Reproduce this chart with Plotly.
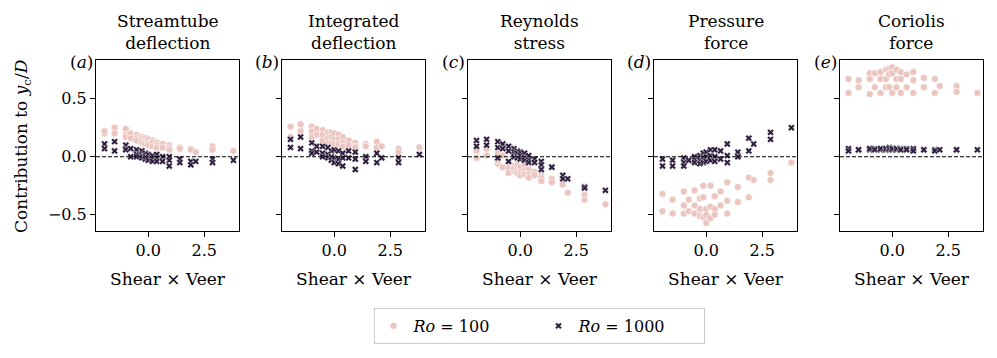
import plotly.graph_objects as go

# shear x veer of each case (shared by both Rossby numbers)
shear_veer = [-1.95, -1.95, -1.5, -1.5, -1.0, -1.0, -1.0, -0.78, -0.78,
              -0.52, -0.52, -0.52, -0.28, -0.28, -0.28, -0.13, -0.13, -0.13,
              0.0, 0.0, 0.0, 0.19, 0.19, 0.19, 0.38, 0.38, 0.38, 0.64, 0.64,
              0.94, 0.94, 0.94, 1.41, 1.41, 1.9, 1.9, 2.12, 2.87, 2.87, 3.8]

# (a) streamtube deflection
a_ro100 = [0.20, 0.22, 0.25, 0.20, 0.24, 0.19, 0.17, 0.20, 0.16, 0.19, 0.16, 0.14,
           0.17, 0.15, 0.12, 0.16, 0.13, 0.11, 0.15, 0.12, 0.10, 0.14, 0.12, 0.09,
           0.12, 0.10, 0.08, 0.11, 0.08, 0.10, 0.08, 0.06, 0.08, 0.07, 0.07, 0.06,
           0.04, 0.09, 0.06, 0.05]
a_ro1000 = [0.11, 0.07, 0.13, 0.05, 0.10, 0.07, 0.06, 0.07, 0.00, 0.06, 0.02, 0.00,
            0.05, 0.01, -0.01, 0.03, 0.00, -0.02, 0.02, -0.01, -0.03, 0.01, -0.02, -0.04,
            0.02, -0.01, -0.04, 0.00, -0.04, 0.00, -0.03, -0.08, -0.02, -0.05, -0.04, -0.07,
            -0.04, -0.02, -0.05, -0.03]

# (b) integrated deflection
b_ro100 = [0.17, 0.26, 0.28, 0.22, 0.26, 0.22, 0.17, 0.24, 0.19, 0.23, 0.19, 0.14,
           0.21, 0.16, 0.12, 0.21, 0.17, 0.12, 0.20, 0.15, 0.11, 0.19, 0.15, 0.11,
           0.17, 0.12, 0.09, 0.14, 0.10, 0.12, 0.09, 0.08, 0.11, 0.09, 0.13, 0.08,
           0.09, 0.07, 0.04, 0.08]
b_ro1000 = [0.15, 0.08, 0.17, 0.07, 0.12, 0.05, 0.03, 0.04, 0.09, 0.09, 0.03, 0.00,
            0.08, 0.02, -0.01, 0.05, 0.00, -0.03, 0.06, -0.01, -0.05, 0.05, -0.02, -0.06,
            0.03, -0.01, -0.08, 0.05, -0.01, 0.04, -0.02, -0.11, 0.00, -0.04, 0.03, -0.05,
            -0.01, -0.01, -0.05, 0.02]

# (c) Reynolds stress
c_ro100 = [0.05, -0.01, 0.07, 0.01, 0.03, -0.06, -0.03, 0.01, -0.09, -0.05, -0.10, -0.14,
           -0.08, -0.12, -0.10, -0.07, -0.11, -0.14, -0.09, -0.13, -0.16, -0.08, -0.12, -0.15,
           -0.11, -0.15, -0.18, -0.13, -0.16, -0.16, -0.18, -0.21, -0.19, -0.22, -0.19, -0.24,
           -0.31, -0.33, -0.37, -0.41]
c_ro1000 = [0.14, 0.09, 0.15, 0.10, 0.13, 0.08, -0.01, 0.11, 0.07, 0.09, 0.05, -0.04,
            0.07, 0.04, 0.00, 0.05, 0.03, -0.01, 0.04, 0.01, -0.02, 0.03, -0.01, -0.03,
            0.01, -0.03, -0.05, -0.02, -0.05, -0.04, -0.07, -0.11, -0.09, -0.09, -0.16, -0.19,
            -0.19, -0.26, -0.27, -0.29]

# (d) pressure force
d_ro100 = [-0.32, -0.47, -0.37, -0.49, -0.30, -0.42, -0.49, -0.37, -0.47, -0.29, -0.42, -0.49,
           -0.36, -0.45, -0.51, -0.25, -0.35, -0.52, -0.45, -0.50, -0.57, -0.25, -0.43, -0.53,
           -0.34, -0.45, -0.50, -0.30, -0.42, -0.22, -0.38, -0.49, -0.26, -0.39, -0.18, -0.35,
           -0.20, -0.14, -0.20, -0.05]
d_ro1000 = [-0.02, -0.08, -0.03, -0.08, -0.01, -0.05, -0.08, -0.03, -0.03, 0.00, -0.03, -0.05,
            0.01, -0.03, -0.06, 0.03, -0.01, -0.05, 0.04, 0.00, -0.04, 0.06, 0.01, -0.03,
            0.06, 0.00, -0.04, 0.05, -0.02, 0.11, 0.01, -0.05, 0.04, 0.00, 0.16, 0.05,
            0.11, 0.21, 0.15, 0.25]

# (e) Coriolis force
e_ro100 = [0.67, 0.55, 0.66, 0.60, 0.72, 0.67, 0.54, 0.72, 0.60, 0.73, 0.67, 0.55,
           0.75, 0.67, 0.60, 0.76, 0.71, 0.60, 0.77, 0.72, 0.55, 0.75, 0.67, 0.60,
           0.73, 0.67, 0.55, 0.71, 0.60, 0.73, 0.66, 0.55, 0.68, 0.60, 0.67, 0.55,
           0.61, 0.61, 0.56, 0.55]
e_ro1000 = [0.07, 0.05, 0.06, 0.06, 0.07, 0.06, 0.07, 0.07, 0.06, 0.07, 0.06, 0.07,
            0.07, 0.06, 0.07, 0.08, 0.06, 0.07, 0.07, 0.06, 0.07, 0.07, 0.06, 0.07,
            0.07, 0.06, 0.06, 0.07, 0.06, 0.06, 0.07, 0.05, 0.06, 0.06, 0.06, 0.05,
            0.06, 0.06, 0.06, 0.06]

titles = ["Streamtube<br>deflection", "Integrated<br>deflection", "Reynolds<br>stress",
          "Pressure<br>force", "Coriolis<br>force"]
labels = ["a", "b", "c", "d", "e"]
ro100 = [a_ro100, b_ro100, c_ro100, d_ro100, e_ro100]
ro1000 = [a_ro1000, b_ro1000, c_ro1000, d_ro1000, e_ro1000]

W, H = 997, 358
FONT = "DejaVu Serif"
PINK = "#ebc6c0"
DARK = "#2d1e3e"

left_px = [96, 282, 468, 654, 840]
panel_w = 143
top_px, bot_px = 60, 231

fig = go.Figure()
annotations = []
shapes = []

for i in range(5):
    ax = "" if i == 0 else str(i + 1)
    x0 = left_px[i] / W
    x1 = (left_px[i] + panel_w) / W
    fig.add_trace(go.Scatter(
        x=shear_veer, y=ro100[i], mode="markers", xaxis="x" + ax, yaxis="y" + ax,
        marker=dict(symbol="circle", size=7, color=PINK, line=dict(color="white", width=0.6)),
        name="<i>Ro</i> = 100", showlegend=(i == 0), legendgroup="100"))
    fig.add_trace(go.Scatter(
        x=shear_veer, y=ro1000[i], mode="markers", xaxis="x" + ax, yaxis="y" + ax,
        marker=dict(symbol="x", size=6, color=DARK, line=dict(color="white", width=0.4)),
        name="<i>Ro</i> = 1000", showlegend=(i == 0), legendgroup="1000"))

    axis_common = dict(showline=True, linecolor="black", linewidth=1, mirror=True,
                       showgrid=False, zeroline=False, ticks="outside", ticklen=5,
                       tickcolor="black", tickfont=dict(family=FONT, size=16, color="black"))
    fig.layout["xaxis" + ax] = dict(
        domain=[x0, x1], anchor="y" + ax, range=[-2.33, 4.05],
        tickvals=[0, 2.5], ticktext=["0.0", "2.5"],
        title=dict(text="Shear × Veer", font=dict(family=FONT, size=17, color="black"), standoff=13),
        **axis_common)
    fig.layout["yaxis" + ax] = dict(
        domain=[1 - bot_px / H, 1 - top_px / H], anchor="x" + ax, range=[-0.64, 0.834],
        tickvals=[-0.5, 0, 0.5], ticktext=["−0.5", "0.0", "0.5"],
        showticklabels=(i == 0),
        **axis_common)

    shapes.append(dict(type="line", xref="x" + ax + " domain", yref="y" + ax,
                       x0=0, x1=1, y0=0, y1=0,
                       line=dict(color="black", width=1, dash="4px,2px")))
    annotations.append(dict(text=titles[i], x=(x0 + x1) / 2, y=1 - 9 / H, xref="paper",
                            yref="paper", xanchor="center", yanchor="top", showarrow=False,
                            font=dict(family=FONT, size=17, color="black")))
    annotations.append(dict(text="(<i>" + labels[i] + "</i>)", x=x0 - 1 / W, y=1 - 62 / H,
                            xref="paper", yref="paper", xanchor="right", yanchor="middle",
                            showarrow=False, font=dict(family=FONT, size=17, color="black")))

annotations.append(dict(text="Contribution to <i>y</i><sub>c</sub>/<i>D</i>", x=22 / W,
                        y=1 - 146 / H, xref="paper", yref="paper", textangle=-90,
                        xanchor="center", yanchor="middle", showarrow=False,
                        font=dict(family=FONT, size=17, color="black")))

fig.update_layout(
    width=W, height=H, margin=dict(l=0, r=0, t=0, b=0, autoexpand=False),
    paper_bgcolor="white", plot_bgcolor="white",
    annotations=annotations, shapes=shapes,
    legend=dict(orientation="h", x=539 / W, y=1 - 308 / H, xanchor="center", yanchor="top",
                bordercolor="#cccccc", borderwidth=1, entrywidth=120,
                font=dict(family=FONT, size=16, color="black")),
)

# drop the page's default body margin so the figure sits at the top-left corner
fig.write_html("out.html", config={"displayModeBar": False},
               post_script="document.body.style.margin='0';")
